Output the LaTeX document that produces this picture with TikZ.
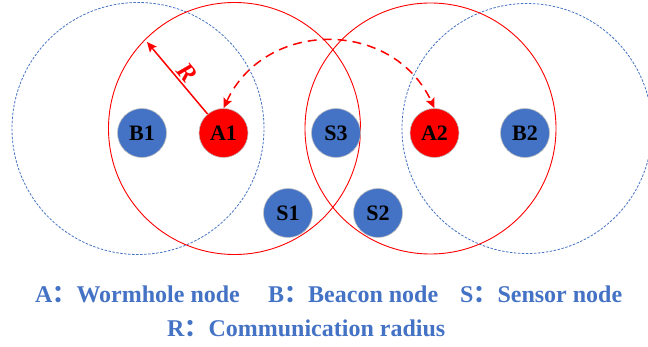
\documentclass[tikz,border=0pt]{standalone}
\usepackage{fontspec}
\setmainfont{Liberation Serif}
\newfontfamily\cjk{Noto Sans CJK SC}
\usetikzlibrary{arrows.meta}
\definecolor{myblue}{HTML}{4472C4}
\definecolor{myred}{HTML}{FF0000}
\newcommand{\fwcolon}{{\cjk ：}}
\tikzset{
  bluezone/.style={draw=myblue, line width=0.8pt, dash pattern=on 2.5pt off 1.5pt},
  redzone/.style={draw=myred, line width=0.9pt},
  netnode/.style={circle, minimum size=49pt, inner sep=0pt, draw=black!25, line width=0.6pt,
    font=\fontsize{22}{22}\selectfont\bfseries, text=black},
  bnode/.style={netnode, fill=myblue},
  anode/.style={netnode, fill=myred},
  tip/.style={-{Stealth[length=10pt,width=9pt,inset=2pt]}},
  legend/.style={anchor=base west, inner sep=0pt, text=myblue, font=\fontsize{24}{24}\selectfont\bfseries}
}
\begin{document}
\begin{tikzpicture}[x=1pt,y=1pt]
\useasboundingbox (0,0) rectangle (648,-347);
% communication ranges
\draw[bluezone] (138,-128.5) circle[radius=126];
\draw[bluezone] (527,-128.5) circle[radius=125];
\draw[redzone] (234.5,-128.5) circle[radius=126];
\draw[redzone] (430.5,-128.5) circle[radius=125.5];
% nodes
\node[bnode] (B1) at (142,-133) {B1};
\node[anode] (A1) at (223.5,-133) {A1};
\node[bnode] (S3) at (336,-133) {S3};
\node[anode] (A2) at (434.5,-133) {A2};
\node[bnode] (B2) at (525,-133) {B2};
\node[bnode] (S1) at (288,-213) {S1};
\node[bnode] (S2) at (378,-213) {S2};
% radius arrow
\coordinate (Rtip) at (147,-42);
\draw[myred, line width=1.5pt, tip] (A1) -- (Rtip)
  node[midway, above, sloped, text=myred, xshift=2pt,
       font=\fontsize{25}{25}\selectfont\bfseries\itshape, inner sep=2pt] (Rlab) {R};
% wormhole link
\draw[myred, line width=1.5pt, dash pattern=on 9pt off 6pt, {Stealth[length=10pt,width=9pt,inset=2pt]}-{Stealth[length=10pt,width=9pt,inset=2pt]}]
  (A1.north) to[out=65, in=115, looseness=1.2] (A2.north);
% legend
\node[legend] (LA) at (35,-303) {A\fwcolon Wormhole node};
\node[legend] (LB) at (268,-303) {B\fwcolon Beacon node};
\node[legend] (LS) at (460,-303) {S\fwcolon Sensor node};
\node[legend] (LR) at (167,-337) {R\fwcolon Communication radius};
\end{tikzpicture}
\end{document}
